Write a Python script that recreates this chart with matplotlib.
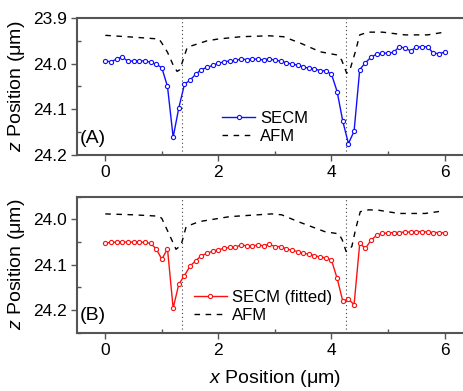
import numpy as np
import matplotlib
matplotlib.use("Agg")
import matplotlib.pyplot as plt
from matplotlib.ticker import MultipleLocator

plt.rcParams["font.family"] = ["Liberation Sans", "DejaVu Sans"]
plt.rcParams["mathtext.fontset"] = "custom"
plt.rcParams["mathtext.rm"] = "Liberation Sans"
plt.rcParams["mathtext.it"] = "Liberation Sans:italic"

# scan positions (0.1 um steps)
x_scan = np.linspace(0, 6, 61)

secm_a = [
    23.994, 23.996, 23.990, 23.985, 23.995, 23.994, 23.994, 23.994, 23.997, 24.001,
    24.009, 24.050, 24.161, 24.097, 24.045, 24.036, 24.023, 24.013, 24.008, 24.004,
    23.999, 23.996, 23.994, 23.993, 23.990, 23.991, 23.990, 23.990, 23.992, 23.989,
    23.993, 23.994, 23.998, 24.001, 24.003, 24.007, 24.010, 24.012, 24.015, 24.016,
    24.023, 24.061, 24.126, 24.175, 24.148, 24.013, 23.998, 23.986, 23.979, 23.977,
    23.977, 23.975, 23.963, 23.966, 23.972, 23.964, 23.963, 23.963, 23.977, 23.978,
    23.975,
]

secm_b = [
    24.052, 24.051, 24.050, 24.050, 24.050, 24.050, 24.050, 24.051, 24.053, 24.065,
    24.088, 24.065, 24.196, 24.143, 24.124, 24.103, 24.091, 24.080, 24.075, 24.070,
    24.067, 24.064, 24.062, 24.061, 24.057, 24.058, 24.058, 24.057, 24.058, 24.055,
    24.060, 24.060, 24.065, 24.068, 24.071, 24.075, 24.077, 24.080, 24.083, 24.085,
    24.090, 24.130, 24.180, 24.176, 24.188, 24.053, 24.064, 24.046, 24.035, 24.031,
    24.030, 24.029, 24.029, 24.028, 24.028, 24.027, 24.027, 24.028, 24.029, 24.029,
    24.030,
]

afm_a_x = [0.0, 0.5, 0.95, 1.0, 1.1, 1.2, 1.27, 1.32, 1.38, 1.45, 1.6, 1.8, 2.0,
           2.4, 2.9, 3.15, 3.45, 3.8, 4.1, 4.18, 4.27, 4.33, 4.42, 4.5, 4.65,
           4.9, 5.3, 5.7, 6.0]
afm_a_z = [23.938, 23.942, 23.946, 23.955, 23.975, 24.003, 24.017, 24.013, 23.990,
           23.964, 23.958, 23.950, 23.946, 23.941, 23.939, 23.941, 23.955, 23.974,
           23.981, 23.992, 24.021, 24.012, 23.975, 23.937, 23.931, 23.931, 23.937,
           23.937, 23.931]

afm_b_x = [0.0, 0.5, 0.95, 1.0, 1.1, 1.2, 1.25, 1.34, 1.43, 1.66, 2.2, 2.94,
           3.12, 3.41, 3.88, 4.13, 4.19, 4.26, 4.36, 4.43, 4.51, 4.66, 4.84,
           5.19, 5.66, 6.0]
afm_b_z = [23.988, 23.990, 23.993, 23.998, 24.025, 24.052, 24.066, 24.057, 24.016,
           24.005, 23.994, 23.988, 23.990, 24.005, 24.027, 24.032, 24.045, 24.071,
           24.060, 24.020, 23.983, 23.979, 23.980, 23.987, 23.987, 23.981]

edge_x = [1.36, 4.25]

SPINE = "#555555"

fig = plt.figure(figsize=(4.64, 3.91), dpi=100)
ax_a = fig.add_axes([0.166, 0.6036, 0.853, 0.3504])
ax_b = fig.add_axes([0.166, 0.149, 0.853, 0.348])


def style_axes(ax):
    ax.set_xlim(-0.5, 6.5)
    ax.xaxis.set_major_locator(MultipleLocator(2))
    ax.xaxis.set_minor_locator(MultipleLocator(1))
    ax.yaxis.set_major_locator(MultipleLocator(0.1))
    ax.yaxis.set_minor_locator(MultipleLocator(0.05))
    ax.yaxis.set_major_formatter(matplotlib.ticker.FormatStrFormatter("%.1f"))
    for s in ax.spines.values():
        s.set_color(SPINE)
        s.set_linewidth(1.5)
    ax.spines["right"].set_visible(False)
    ax.tick_params(which="major", direction="out", length=4, width=1,
                   color=SPINE, labelsize=12.5, left=True, bottom=True)
    ax.tick_params(which="minor", direction="in", length=3, width=1,
                   color=SPINE)
    ax.set_ylabel("$z$ Position (μm)", fontsize=14, labelpad=4)
    for ex in edge_x:
        ax.axvline(ex, color="#444444", linestyle=(0, (1, 2.5)), linewidth=0.8,
                   zorder=1)


# panel A
ax_a.plot(x_scan, secm_a, color="#1010ff", linewidth=1, marker="o",
          markersize=3, markerfacecolor="white", markeredgewidth=0.8,
          label="SECM", zorder=3)
ax_a.plot(afm_a_x, afm_a_z, color="black", linestyle=(0, (4, 4)),
          linewidth=1, label="AFM", zorder=2)
ax_a.set_ylim(24.2, 23.9)
style_axes(ax_a)
ax_a.text(0.008, 0.117, "(A)", transform=ax_a.transAxes, fontsize=14,
          va="center", ha="left")
ax_a.legend(loc="center left", bbox_to_anchor=(0.366, 0.202), frameon=False,
            fontsize=12, handlelength=2.0, handletextpad=0.3,
            labelspacing=0.15, borderpad=0, borderaxespad=0)

# panel B
ax_b.plot(x_scan, secm_b, color="#ff1010", linewidth=1, marker="o",
          markersize=3, markerfacecolor="white", markeredgewidth=0.8,
          label="SECM (fitted)", zorder=3)
ax_b.plot(afm_b_x, afm_b_z, color="black", linestyle=(0, (4, 4)),
          linewidth=1, label="AFM", zorder=2)
ax_b.set_ylim(24.25, 23.95)
style_axes(ax_b)
ax_b.text(0.008, 0.13, "(B)", transform=ax_b.transAxes, fontsize=14,
          va="center", ha="left")
ax_b.legend(loc="center left", bbox_to_anchor=(0.295, 0.195), frameon=False,
            fontsize=12, handlelength=2.0, handletextpad=0.3,
            labelspacing=0.2, borderpad=0, borderaxespad=0)
ax_b.set_xlabel("$x$ Position (μm)", fontsize=14, labelpad=7)

fig.savefig("out.png", dpi=100)
